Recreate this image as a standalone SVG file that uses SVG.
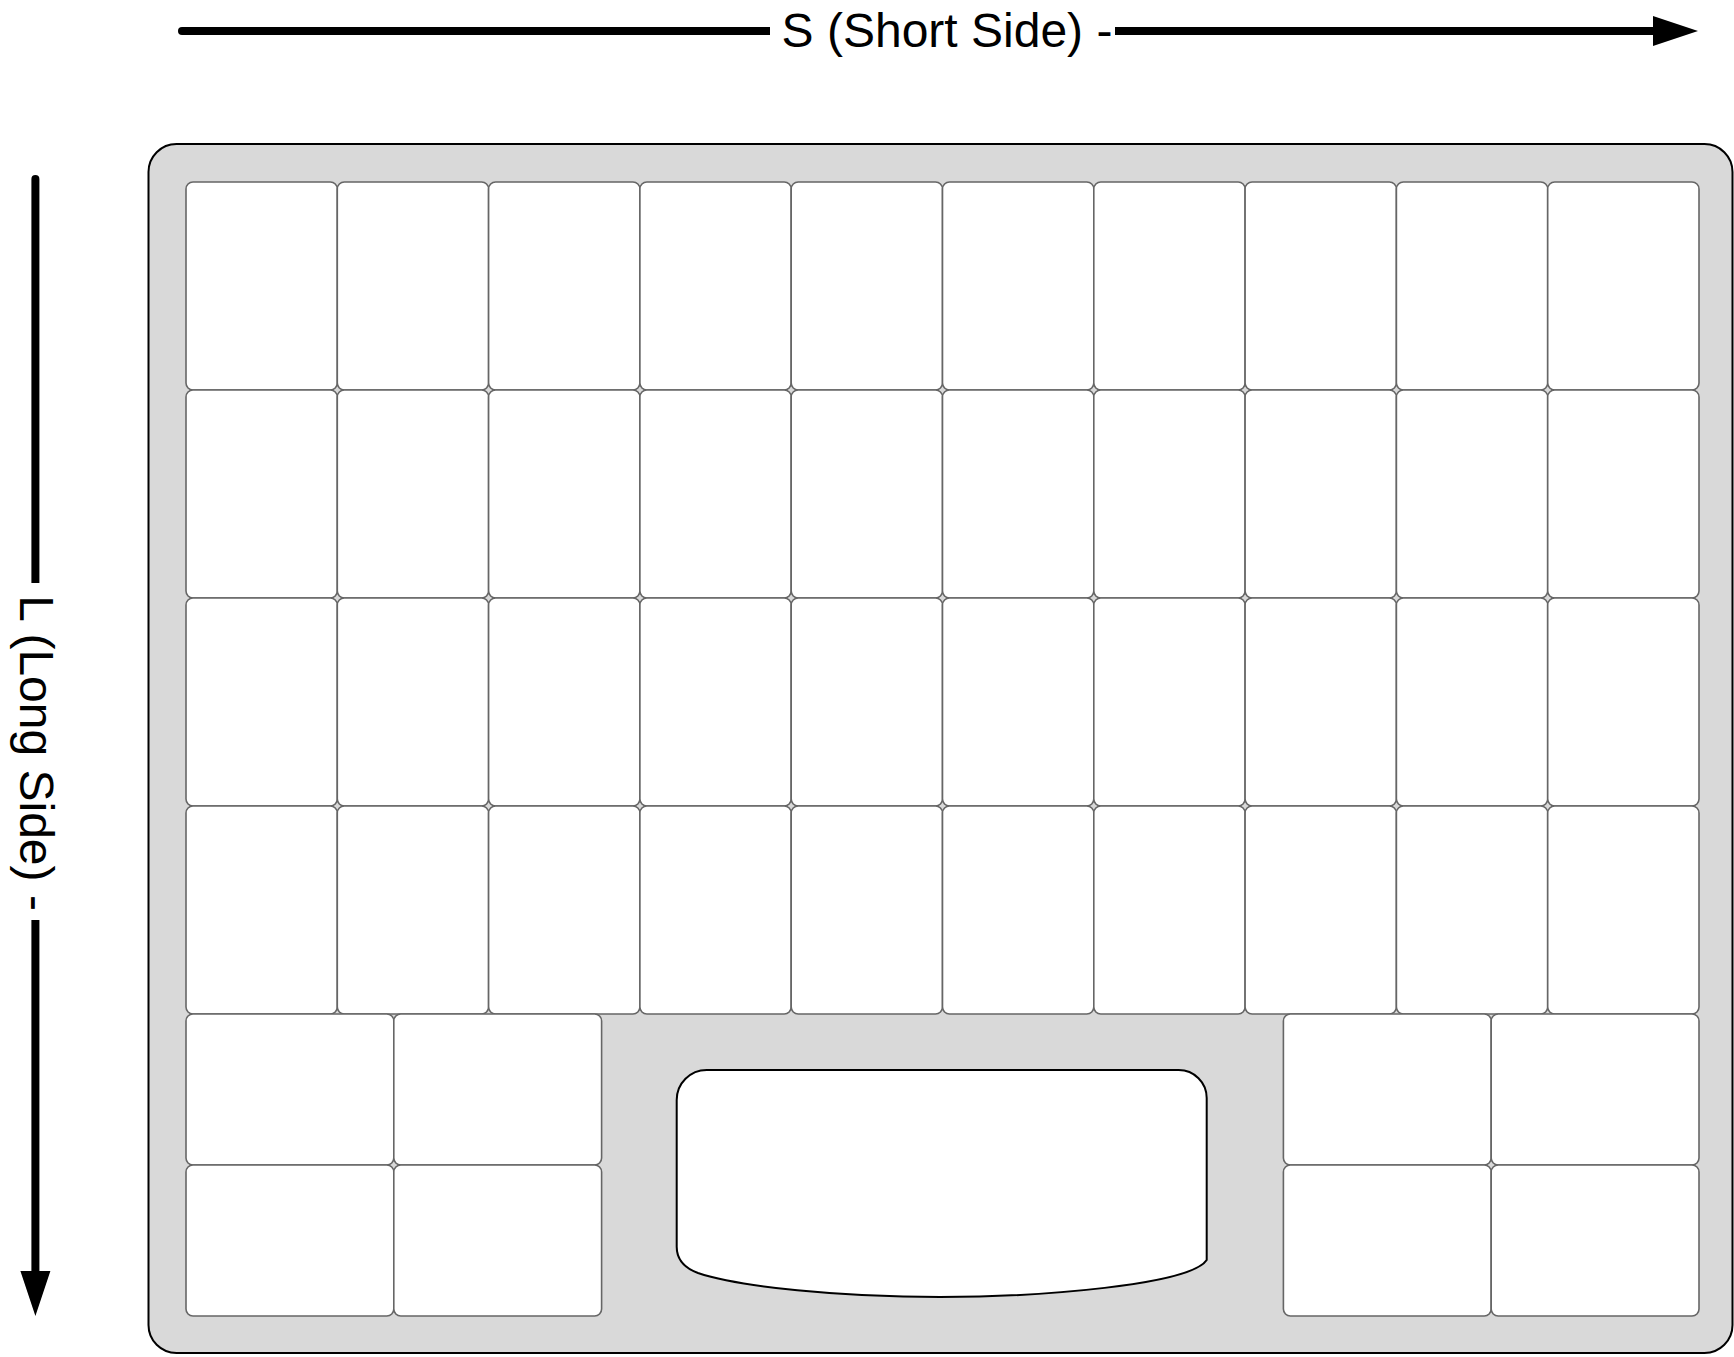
<svg xmlns="http://www.w3.org/2000/svg" width="1734" height="1357" viewBox="0 0 1734 1357">
<style>
.tray{fill:#d9d9d9;stroke:#000;stroke-width:2}
.c{fill:#fff;stroke:#666;stroke-width:1.6}
.bin{fill:#fff;stroke:#000;stroke-width:2}
.ln{fill:none;stroke:#000;stroke-width:8;stroke-linecap:round}
.lbl{font-family:"Liberation Sans",Arial,sans-serif;font-size:48px;fill:#000}
</style>
<defs>
<marker id="ah" markerUnits="userSpaceOnUse" markerWidth="50" markerHeight="34" viewBox="0 0 50 34" refX="7" refY="17" orient="auto">
<path d="M0,2 L45,17 L0,32 Z" fill="#000"/>
</marker>
<rect id="cv" width="151.3" height="208" rx="7" class="c"/>
<rect id="ch" width="207.8" height="151" rx="7" class="c"/>
</defs>
<g id="tray"><rect x="148.5" y="144" width="1584" height="1209" rx="28" class="tray"/></g>
<g id="cells">
<g id="r1c1"><use href="#cv" x="186" y="182"/></g>
<g id="r1c2"><use href="#cv" x="337.3" y="182"/></g>
<g id="r1c3"><use href="#cv" x="488.6" y="182"/></g>
<g id="r1c4"><use href="#cv" x="639.9" y="182"/></g>
<g id="r1c5"><use href="#cv" x="791.2" y="182"/></g>
<g id="r1c6"><use href="#cv" x="942.5" y="182"/></g>
<g id="r1c7"><use href="#cv" x="1093.8" y="182"/></g>
<g id="r1c8"><use href="#cv" x="1245.1" y="182"/></g>
<g id="r1c9"><use href="#cv" x="1396.4" y="182"/></g>
<g id="r1c10"><use href="#cv" x="1547.7" y="182"/></g>
<g id="r2c1"><use href="#cv" x="186" y="390"/></g>
<g id="r2c2"><use href="#cv" x="337.3" y="390"/></g>
<g id="r2c3"><use href="#cv" x="488.6" y="390"/></g>
<g id="r2c4"><use href="#cv" x="639.9" y="390"/></g>
<g id="r2c5"><use href="#cv" x="791.2" y="390"/></g>
<g id="r2c6"><use href="#cv" x="942.5" y="390"/></g>
<g id="r2c7"><use href="#cv" x="1093.8" y="390"/></g>
<g id="r2c8"><use href="#cv" x="1245.1" y="390"/></g>
<g id="r2c9"><use href="#cv" x="1396.4" y="390"/></g>
<g id="r2c10"><use href="#cv" x="1547.7" y="390"/></g>
<g id="r3c1"><use href="#cv" x="186" y="598"/></g>
<g id="r3c2"><use href="#cv" x="337.3" y="598"/></g>
<g id="r3c3"><use href="#cv" x="488.6" y="598"/></g>
<g id="r3c4"><use href="#cv" x="639.9" y="598"/></g>
<g id="r3c5"><use href="#cv" x="791.2" y="598"/></g>
<g id="r3c6"><use href="#cv" x="942.5" y="598"/></g>
<g id="r3c7"><use href="#cv" x="1093.8" y="598"/></g>
<g id="r3c8"><use href="#cv" x="1245.1" y="598"/></g>
<g id="r3c9"><use href="#cv" x="1396.4" y="598"/></g>
<g id="r3c10"><use href="#cv" x="1547.7" y="598"/></g>
<g id="r4c1"><use href="#cv" x="186" y="806"/></g>
<g id="r4c2"><use href="#cv" x="337.3" y="806"/></g>
<g id="r4c3"><use href="#cv" x="488.6" y="806"/></g>
<g id="r4c4"><use href="#cv" x="639.9" y="806"/></g>
<g id="r4c5"><use href="#cv" x="791.2" y="806"/></g>
<g id="r4c6"><use href="#cv" x="942.5" y="806"/></g>
<g id="r4c7"><use href="#cv" x="1093.8" y="806"/></g>
<g id="r4c8"><use href="#cv" x="1245.1" y="806"/></g>
<g id="r4c9"><use href="#cv" x="1396.4" y="806"/></g>
<g id="r4c10"><use href="#cv" x="1547.7" y="806"/></g>
<g id="bl1"><use href="#ch" x="186" y="1014"/></g>
<g id="bl2"><use href="#ch" x="393.8" y="1014"/></g>
<g id="bl3"><use href="#ch" x="186" y="1165"/></g>
<g id="bl4"><use href="#ch" x="393.8" y="1165"/></g>
<g id="br1"><use href="#ch" x="1283.4" y="1014"/></g>
<g id="br2"><use href="#ch" x="1491.2" y="1014"/></g>
<g id="br3"><use href="#ch" x="1283.4" y="1165"/></g>
<g id="br4"><use href="#ch" x="1491.2" y="1165"/></g>
</g>
<g id="center-bin">
<path class="bin" d="M706.7,1070 H1178.7 A28,28 0 0 1 1206.7,1098 V1260 C1190,1285 1040,1297 940,1297 C840,1297 740,1287 698,1273 Q676.7,1265 676.7,1246.7 V1100 A30,30 0 0 1 706.7,1070 Z"/>
</g>
<g id="connectors">
<path class="ln" d="M182,31 H1660" marker-end="url(#ah)"/>
<path class="ln" d="M35.4,179 V1278" marker-end="url(#ah)"/>
</g>
<g id="labels">
<rect x="770" y="8" width="345" height="50" fill="#fff"/>
<text class="lbl" x="947" y="46.5" text-anchor="middle">S (Short Side) -</text>
<rect x="10" y="583" width="50" height="337" fill="#fff"/>
<text class="lbl" transform="translate(20,753) rotate(90)" text-anchor="middle">L (Long Side) -</text>
</g>
</svg>
